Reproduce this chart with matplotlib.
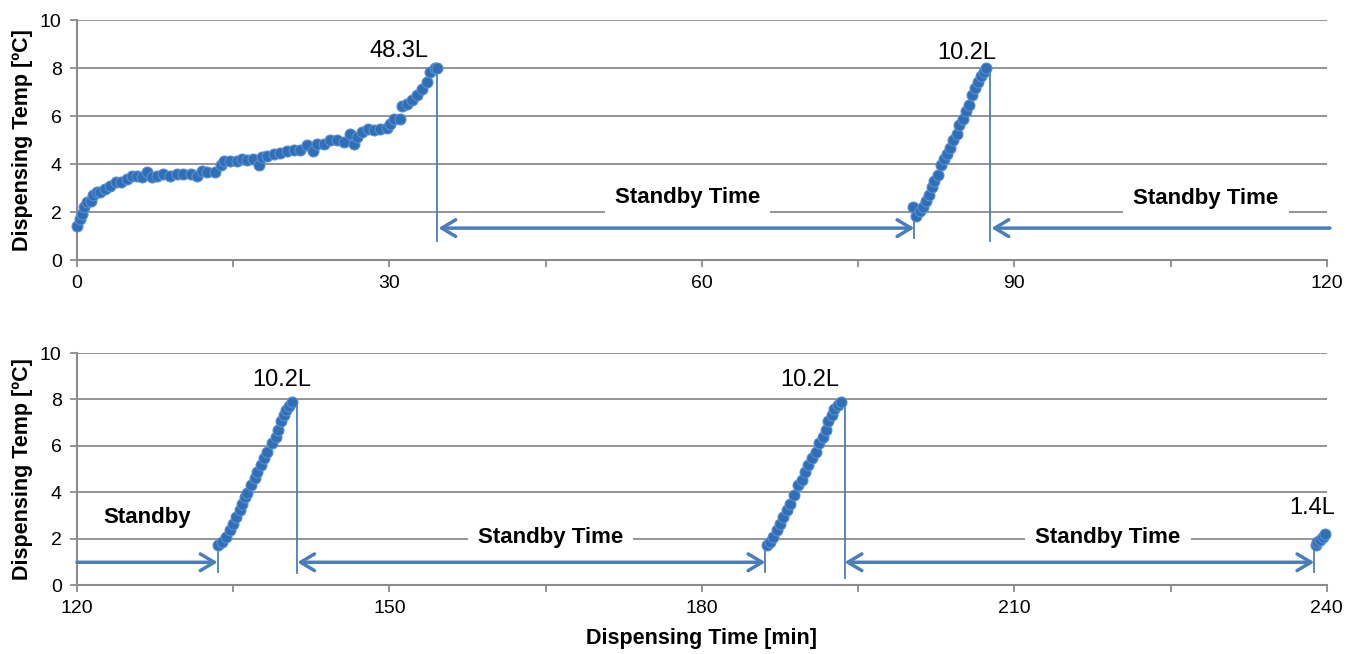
import matplotlib
matplotlib.use('Agg')
import matplotlib.pyplot as plt

plt.rcParams['font.family'] = ['Liberation Sans', 'DejaVu Sans']

# dispensing runs: time [min] and temperature [C]
run1_t = [0, 0.26, 0.48, 0.7, 0.96, 1.34, 1.53, 1.9, 2.2, 2.7, 3.2, 3.7, 4.2, 4.8,
          5.3, 5.8, 6.2, 6.7, 7.2, 7.7, 8.3, 8.95, 9.6, 10.2, 10.9, 11.5, 12.0, 12.5,
          13.3, 13.8, 14.1, 14.7, 15.4, 15.8, 16.3, 16.9, 17.5, 17.8, 18.2, 18.9, 19.5,
          20.2, 20.8, 21.4, 22.1, 22.7, 23.0, 23.7, 24.3, 24.95, 25.6, 26.2, 26.6, 26.9,
          27.4, 27.9, 28.5, 29.1, 29.8, 30.1, 30.4, 31.0, 31.2, 31.7, 32.2, 32.6, 33.1,
          33.6, 33.9, 34.4, 34.6]
run1_T = [1.42, 1.71, 1.92, 2.2, 2.41, 2.48, 2.73, 2.83, 2.83, 2.97, 3.1, 3.25, 3.27, 3.38,
          3.52, 3.52, 3.45, 3.66, 3.48, 3.52, 3.59, 3.52, 3.59, 3.57, 3.59, 3.52, 3.73, 3.66,
          3.66, 3.94, 4.12, 4.12, 4.12, 4.22, 4.15, 4.22, 3.98, 4.29, 4.32, 4.43, 4.46,
          4.54, 4.6, 4.6, 4.78, 4.54, 4.82, 4.85, 4.99, 5.01, 4.92, 5.24, 4.85, 5.13,
          5.33, 5.47, 5.43, 5.47, 5.52, 5.68, 5.89, 5.89, 6.41, 6.52, 6.66, 6.87, 7.14,
          7.42, 7.84, 7.98, 8.0]

run2_t = [80.25, 80.6, 80.9, 81.2, 81.5, 81.8, 82.1, 82.3, 82.65, 82.95, 83.2, 83.5, 83.8,
          84.1, 84.45, 84.7, 85.05, 85.4, 85.6, 85.95, 86.2, 86.5, 86.8, 87.05, 87.3]
run2_T = [2.23, 1.85, 2.06, 2.2, 2.45, 2.73, 3.03, 3.31, 3.56, 3.94, 4.22, 4.43, 4.68,
          4.99, 5.27, 5.61, 5.89, 6.2, 6.45, 6.87, 7.15, 7.42, 7.66, 7.84, 8.02]

run3_t = [133.58, 133.96, 134.28, 134.67, 134.99, 135.3, 135.63, 135.88, 136.1, 136.36,
          136.68, 137.1, 137.3, 137.64, 137.96, 138.27, 138.7, 139.08, 139.33, 139.56,
          139.88, 140.1, 140.36, 140.67]
run3_T = [1.71, 1.85, 2.07, 2.36, 2.65, 2.93, 3.23, 3.51, 3.8, 3.95, 4.31, 4.6, 4.88, 5.17,
          5.46, 5.75, 6.11, 6.4, 6.69, 7.05, 7.34, 7.55, 7.73, 7.91]

run4_t = [186.21, 186.54, 186.86, 187.17, 187.5, 187.81, 188.13, 188.46, 188.87, 189.25,
          189.64, 189.9, 190.21, 190.53, 190.91, 191.24, 191.65, 191.87, 192.13, 192.45,
          192.7, 193.02, 193.35]
run4_T = [1.71, 1.85, 2.07, 2.36, 2.65, 2.93, 3.23, 3.51, 3.87, 4.31, 4.52, 4.88, 5.17,
          5.46, 5.75, 6.11, 6.4, 6.69, 7.05, 7.34, 7.58, 7.77, 7.91]

run5_t = [238.96, 239.1, 239.3, 239.6, 239.8]
run5_T = [1.71, 1.85, 1.93, 2.07, 2.19]

# volume labels: text, time, temp
top_labels = [('48.3L', 30.9, 8.7), ('10.2L', 85.4, 8.62)]
bot_labels = [('10.2L', 139.7, 8.85), ('10.2L', 190.4, 8.85), ('1.4L', 238.6, 3.3)]

# standby periods: start, end, arrow level
top_standby = [(34.7, 80.4, 1.33), (87.8, 120.3, 1.33)]
bot_standby = [(120.0, 133.5, 0.98), (141.15, 186.1, 0.98), (193.7, 238.8, 0.98)]
top_standby_text = [('Standby Time', 58.6, 2.6), ('Standby Time', 108.4, 2.58)]
bot_standby_text = [('Standby', 126.7, 2.9), ('Standby Time', 165.5, 2.06),
                    ('Standby Time', 219.0, 2.06)]

# vertical markers: time, y from, y to
top_vlines = [(34.6, 0.8, 8.0), (80.4, 0.9, 2.0), (87.7, 0.8, 8.0)]
bot_vlines = [(133.5, 0.55, 1.7), (141.15, 0.5, 7.9), (186.1, 0.55, 1.7),
              (193.7, 0.3, 7.9), (238.8, 0.55, 1.8)]

blue = '#2e6fb7'
line_blue = '#4a7ebb'
grey = '#8c8c8c'

fig = plt.figure(figsize=(13.6, 6.54), dpi=100)
ax1 = fig.add_axes([0.0566, 0.6024, 0.919, 0.367])
ax2 = fig.add_axes([0.0566, 0.1055, 0.919, 0.3547])


def style_axis(ax, x0, x1):
    ax.set_xlim(x0, x1)
    ax.set_ylim(0, 10)
    ax.set_yticks(range(0, 11, 2))
    ax.set_xticks(range(x0, x1 + 1, 15), minor=True)
    ax.set_xticks(range(x0, x1 + 1, 30))
    ax.grid(axis='y', color=grey, linewidth=1.3)
    ax.set_axisbelow(True)
    for s in ['top', 'right']:
        ax.spines[s].set_visible(False)
    for s in ['left', 'bottom']:
        ax.spines[s].set_color(grey)
        ax.spines[s].set_linewidth(1.5)
    ax.tick_params(which='both', direction='out', color=grey, width=1.3, length=5,
                   labelsize=14, pad=6)
    ax.set_ylabel('Dispensing Temp [ºC]', fontsize=15.5, fontweight='bold', labelpad=5)


def draw_arrows(ax, spans, texts, vlines):
    lo, hi = ax.get_xlim()
    for x0, x1, y in spans:
        # open end where the standby runs off the panel
        if x0 <= lo:
            style = '->'
        elif x1 >= hi:
            style = '<-'
        else:
            style = '<->'
        ax.annotate('', xy=(x1, y), xytext=(x0, y),
                    arrowprops=dict(arrowstyle=style + ',head_length=0.5,head_width=0.3',
                                    color=line_blue, lw=2.5, shrinkA=0, shrinkB=0,
                                    mutation_scale=20),
                    annotation_clip=False)
    for txt, x, y in texts:
        ax.text(x, y, txt, ha='center', va='center', fontsize=16, fontweight='bold',
                bbox=dict(facecolor='white', edgecolor='none', boxstyle='square,pad=0.45'))
    for x, y0, y1 in vlines:
        ax.plot([x, x], [y0, y1], color=line_blue, lw=1.3, zorder=2)


style_axis(ax1, 0, 120)
style_axis(ax2, 120, 240)
ax2.set_xlabel('Dispensing Time [min]', fontsize=15.5, fontweight='bold', labelpad=8)

draw_arrows(ax1, top_standby, top_standby_text, top_vlines)
draw_arrows(ax2, bot_standby, bot_standby_text, bot_vlines)

for ax, runs in [(ax1, [(run1_t, run1_T), (run2_t, run2_T)]),
                 (ax2, [(run3_t, run3_T), (run4_t, run4_T), (run5_t, run5_T)])]:
    for t, T in runs:
        ax.scatter(t, T, s=62, color=blue, edgecolor='#5a8ed0', linewidth=0.8,
                   zorder=4, clip_on=False)

for txt, x, y in top_labels:
    ax1.text(x, y, txt, ha='center', va='center', fontsize=17)
for txt, x, y in bot_labels:
    ax2.text(x, y, txt, ha='center', va='center', fontsize=17)

fig.savefig('out.png', dpi=100)
